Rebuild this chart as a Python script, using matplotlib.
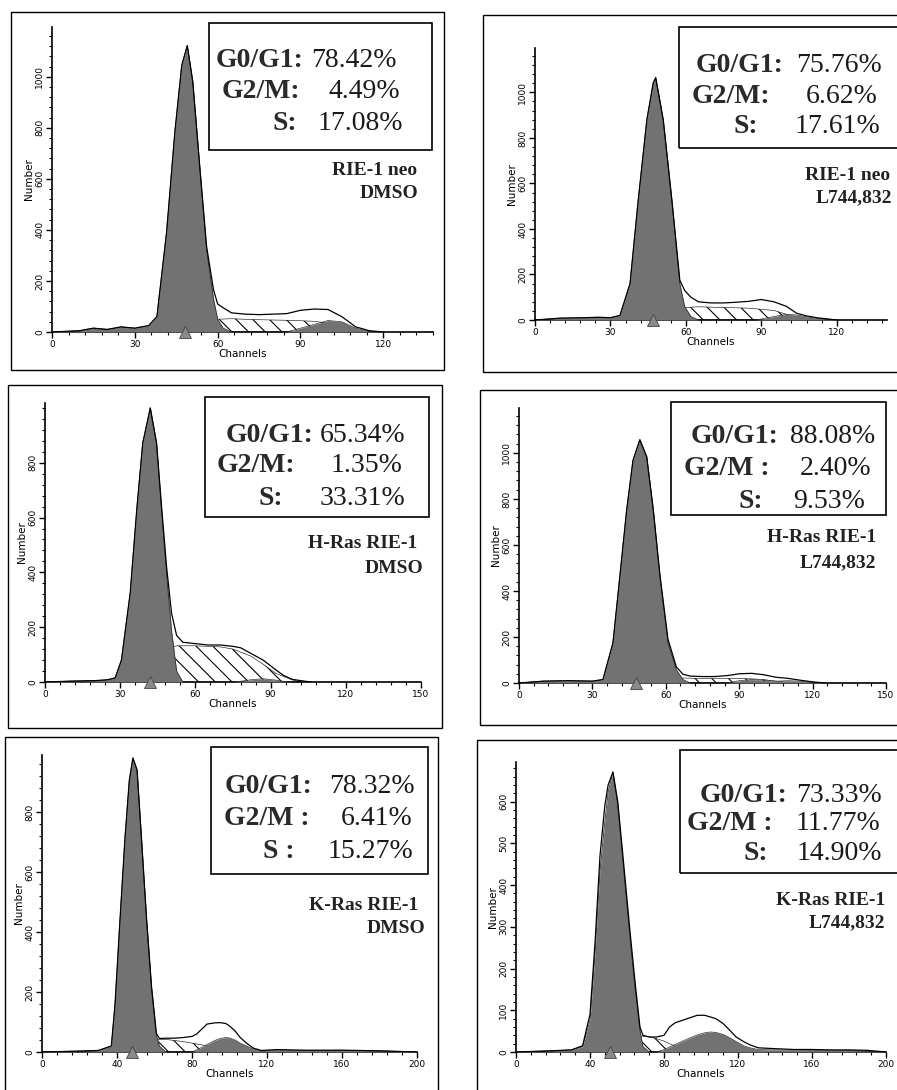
import matplotlib
matplotlib.use('Agg')
import matplotlib.pyplot as plt
from matplotlib.patches import Rectangle
from matplotlib.ticker import MultipleLocator

W, H = 897, 1090

# ---------------- data ----------------
# panel 1: RIE-1 neo, DMSO
tot_ch1 = [0, 10, 15, 20, 25, 30, 35, 38, 41.5, 44.5, 47, 49, 51, 53.5, 56, 58.5, 60, 62, 65, 70, 75, 80, 85, 90, 95, 100, 105, 110, 115, 120]
tot_n1 = [0, 5, 15, 10, 20, 15, 25, 60, 390, 783, 1045, 1122, 980, 650, 335, 165, 110, 95, 75, 70, 68, 70, 72, 85, 90, 88, 60, 20, 5, 0]
g1_ch1 = [0, 10, 15, 20, 25, 30, 35, 38, 41.5, 44.5, 47, 49, 51, 53.5, 56, 58.5, 60, 62, 65]
g1_n1 = [0, 5, 15, 10, 20, 15, 25, 60, 390, 783, 1045, 1122, 980, 650, 320, 130, 50, 15, 0]
s_ch1 = [36, 45, 55, 60, 65, 75, 85, 95, 100, 105, 110, 115]
s_n1 = [0, 15, 38, 50, 52, 48, 46, 42, 35, 22, 8, 0]
g2_ch1 = [85, 90, 95, 100, 105, 110, 115, 120]
g2_n1 = [0, 15, 30, 45, 40, 15, 3, 0]

# panel 2: RIE-1 neo, L744,832
tot_ch2 = [0, 10, 20, 25, 30, 33.8, 37.8, 41, 44.5, 47, 48, 51, 54.5, 57.6, 59.5, 62, 65, 70, 75, 80, 85, 90, 95, 100, 104, 108, 112, 116, 120]
tot_n2 = [0, 8, 10, 12, 10, 20, 160, 520, 880, 1040, 1065, 880, 520, 175, 130, 100, 80, 75, 75, 78, 82, 90, 80, 60, 30, 18, 10, 5, 0]
g1_ch2 = [0, 10, 20, 25, 30, 33.8, 37.8, 41, 44.5, 47, 48, 51, 54.5, 57.6, 59.5, 62, 65]
g1_n2 = [0, 8, 10, 12, 10, 20, 160, 520, 880, 1040, 1065, 880, 520, 160, 60, 15, 0]
s_ch2 = [36, 45, 55, 60, 65, 75, 85, 95, 100, 104, 108, 112]
s_n2 = [0, 20, 42, 55, 58, 55, 52, 42, 25, 10, 3, 0]
g2_ch2 = [88, 95, 100, 104, 108, 112, 116, 120]
g2_n2 = [0, 15, 25, 22, 14, 8, 4, 0]

# panel 3: H-Ras RIE-1, DMSO
tot_ch3 = [0, 10, 20, 25, 28, 30.5, 34, 36.6, 39, 42, 44.5, 46.5, 48.5, 50.5, 52.5, 55, 60, 65, 70, 75, 78, 82, 87, 92, 95, 98.5, 102, 106]
tot_n3 = [0, 3, 5, 8, 15, 80, 325, 628, 872, 1000, 872, 640, 420, 250, 170, 145, 140, 135, 135, 130, 125, 105, 80, 45, 25, 10, 5, 0]
g1_ch3 = [0, 10, 20, 25, 28, 30.5, 34, 36.6, 39, 42, 44.5, 46.5, 48.5, 50.5, 52.5, 55]
g1_n3 = [0, 3, 5, 8, 15, 80, 325, 628, 872, 1000, 872, 628, 392, 186, 40, 0]
s_ch3 = [34, 39, 44.5, 48.5, 52.5, 60, 70, 75, 82, 87, 92, 98.5, 102]
s_n3 = [0, 50, 95, 120, 132, 132, 128, 120, 95, 65, 32, 8, 0]
g2_ch3 = [76, 82, 87, 92, 97]
g2_n3 = [0, 8, 12, 7, 0]

# panel 4: H-Ras RIE-1, L744,832
tot_ch4 = [0, 10, 20, 30, 34.3, 38.4, 41.2, 44, 46.6, 49.4, 52.2, 54.9, 57.6, 60.9, 64.3, 67, 70, 75, 80, 85, 90, 95, 100, 105, 110, 115, 120, 125]
tot_n4 = [0, 8, 10, 8, 15, 174, 461, 751, 968, 1057, 983, 751, 470, 190, 70, 38, 30, 28, 28, 32, 40, 42, 36, 25, 20, 12, 5, 0]
g1_ch4 = [0, 10, 20, 30, 34.3, 38.4, 41.2, 44, 46.6, 49.4, 52.2, 54.9, 57.6, 60.9, 64.3, 67, 70]
g1_n4 = [0, 8, 10, 8, 15, 174, 461, 751, 968, 1057, 983, 751, 461, 174, 58, 15, 0]
s_ch4 = [38, 50, 60, 65, 75, 85, 95, 100, 105, 112]
s_n4 = [0, 12, 20, 22, 20, 20, 18, 15, 8, 0]
g2_ch4 = [85, 90, 95, 100, 105, 110, 115, 120, 125]
g2_n4 = [0, 10, 15, 12, 8, 10, 8, 4, 0]

# panel 5: K-Ras RIE-1, DMSO
tot_ch5 = [0, 20, 30, 37, 39, 41.6, 44.3, 46.6, 48.5, 50.7, 53, 55.8, 58.4, 61, 62.6, 66, 70, 75, 80, 82.5,
           85, 88, 92, 95, 98, 100, 103, 105.6, 109, 112.7, 117, 125, 140, 160, 180, 200]
tot_n5 = [0, 3, 5, 20, 163, 440, 717, 907, 980, 940, 717, 440, 218, 62, 45, 46, 46, 48, 52, 60,
          75, 93, 97, 98, 95, 87, 70, 49, 30, 13, 5, 8, 6, 6, 4, 0]
g1_ch5 = [0, 20, 30, 37, 39, 41.6, 44.3, 46.6, 48.5, 50.7, 53, 55.8, 58.4, 61, 62.6, 66]
g1_n5 = [0, 3, 5, 20, 163, 440, 717, 907, 980, 940, 717, 440, 218, 55, 20, 0]
s_ch5 = [40, 50, 58, 62, 66, 75, 85, 92, 100, 105]
s_n5 = [0, 25, 38, 42, 42, 35, 24, 15, 5, 0]
g2_ch5 = [80, 85, 88, 92, 95, 98, 100, 103, 105.6, 109, 112.7, 117, 125, 140, 160, 180, 200]
g2_n5 = [0, 15, 25, 38, 45, 48, 47, 40, 30, 20, 10, 4, 6, 5, 6, 4, 0]

# panel 6: K-Ras RIE-1, L744,832
tot_ch6 = [0, 20, 30, 36, 40, 42.7, 45.4, 48, 49.8, 52.4, 55, 57.8, 61.6, 64.3, 67, 68.6, 72, 76, 80, 83,
           86, 90, 94, 98, 102, 105, 108, 112, 116, 119, 123, 126.5, 131, 140, 150, 160, 170, 180, 190, 200]
tot_n6 = [0, 3, 5, 15, 90, 260, 470, 590, 640, 671, 600, 470, 290, 170, 60, 40, 36, 36, 40, 60,
          70, 76, 82, 88, 88, 84, 80, 68, 50, 36, 25, 17, 10, 8, 6, 6, 5, 5, 4, 0]
g1_ch6 = [0, 20, 30, 36, 40, 42.7, 45.4, 48, 49.8, 52.4, 55, 57.8, 61.6, 64.3, 67, 68.6, 72]
g1_n6 = [0, 3, 5, 13, 76, 235, 433, 552, 623, 671, 592, 457, 274, 155, 52, 13, 0]
s_ch6 = [42, 50, 58, 64, 68, 72, 76, 80, 86, 92]
s_n6 = [0, 17, 28, 36, 38, 36, 32, 26, 14, 0]
g2_ch6 = [76, 80, 83, 86, 90, 94, 98, 102, 105, 108, 112, 116, 119, 123, 126.5, 131, 140, 160, 180, 200]
g2_n6 = [0, 6, 12, 18, 26, 34, 41, 46, 48, 47, 42, 33, 25, 15, 10, 6, 5, 4, 4, 0]

# G1 peak position markers
peak_ch = [48, 47, 42, 48, 48, 51]

# cell cycle percentages (G0/G1, G2/M, S)
pct1 = ["78.42%", "4.49%", "17.08%"]
pct2 = ["75.76%", "6.62%", "17.61%"]
pct3 = ["65.34%", "1.35%", "33.31%"]
pct4 = ["88.08%", "2.40%", "9.53%"]
pct5 = ["78.32%", "6.41%", "15.27%"]
pct6 = ["73.33%", "11.77%", "14.90%"]

phase_lab1 = ["G0/G1:", "G2/M:", "S:"]
phase_lab2 = ["G0/G1:", "G2/M :", "S:"]
phase_lab3 = ["G0/G1:", "G2/M :", "S :"]

cells = ["RIE-1 neo", "RIE-1 neo", "H-Ras RIE-1", "H-Ras RIE-1", "K-Ras RIE-1", "K-Ras RIE-1"]
treat = ["DMSO", "L744,832", "DMSO", "L744,832", "DMSO", "L744,832"]

# ---------------- layout (pixels of the 897x1090 image) ----------------
panels = [
    dict(tot=(tot_ch1, tot_n1), g1=(g1_ch1, g1_n1), s=(s_ch1, s_n1), g2=(g2_ch1, g2_n1),
         pct=pct1, lab=phase_lab1,
         frame=(11, 12, 444, 370), ax=(52, 433, 332, 27), xlim=138, ylim=1195,
         xstep=30, ytop=1000, ystep=200,
         box=(209, 23, 432, 150), base=(67, 98, 130), lab_r=(303, 300, 297), num_r=(397, 400, 403),
         cond_r=(417, 418), cond_y=(175, 198)),
    dict(tot=(tot_ch2, tot_n2), g1=(g1_ch2, g1_n2), s=(s_ch2, s_n2), g2=(g2_ch2, g2_n2),
         pct=pct2, lab=phase_lab1,
         frame=(483, 15, 902, 372), ax=(535, 887, 320, 48), xlim=140, ylim=1195,
         xstep=30, ytop=1000, ystep=200,
         box=(679, 27, 902, 148), base=(72, 103, 133), lab_r=(783, 770, 758), num_r=(882, 878, 880),
         cond_r=(890, 892), cond_y=(180, 202)),
    dict(tot=(tot_ch3, tot_n3), g1=(g1_ch3, g1_n3), s=(s_ch3, s_n3), g2=(g2_ch3, g2_n3),
         pct=pct3, lab=phase_lab1,
         frame=(8, 385, 442, 728), ax=(45, 421, 682, 403), xlim=150, ylim=1018,
         xstep=30, ytop=800, ystep=200,
         box=(205, 397, 429, 517), base=(442, 472, 505), lab_r=(313, 295, 283), num_r=(405, 402, 405),
         cond_r=(417, 423), cond_y=(548, 573)),
    dict(tot=(tot_ch4, tot_n4), g1=(g1_ch4, g1_n4), s=(s_ch4, s_n4), g2=(g2_ch4, g2_n4),
         pct=pct4, lab=phase_lab2,
         frame=(480, 390, 902, 725), ax=(519, 886, 683, 408), xlim=150, ylim=1195,
         xstep=30, ytop=1000, ystep=200,
         box=(671, 402, 886, 515), base=(443, 475, 508), lab_r=(778, 770, 763), num_r=(875, 871, 865),
         cond_r=(876, 876), cond_y=(542, 567)),
    dict(tot=(tot_ch5, tot_n5), g1=(g1_ch5, g1_n5), s=(s_ch5, s_n5), g2=(g2_ch5, g2_n5),
         pct=pct5, lab=phase_lab3,
         frame=(5, 737, 438, 1098), ax=(42, 417, 1052, 755), xlim=200, ylim=990,
         xstep=40, ytop=800, ystep=200,
         box=(211, 747, 428, 874), base=(793, 825, 858), lab_r=(312, 310, 295), num_r=(415, 412, 413),
         cond_r=(418, 425), cond_y=(910, 933)),
    dict(tot=(tot_ch6, tot_n6), g1=(g1_ch6, g1_n6), s=(s_ch6, s_n6), g2=(g2_ch6, g2_n6),
         pct=pct6, lab=phase_lab2,
         frame=(477, 740, 902, 1098), ax=(516, 886, 1052, 762), xlim=200, ylim=695,
         xstep=40, ytop=600, ystep=100,
         box=(680, 750, 902, 873), base=(802, 830, 860), lab_r=(787, 773, 768), num_r=(882, 880, 882),
         cond_r=(885, 885), cond_y=(905, 927)),
]

plt.rcParams['hatch.linewidth'] = 0.8
serif = ['Liberation Serif', 'DejaVu Serif']
fill_gray = '#727272'

fig = plt.figure(figsize=(W / 100, H / 100), dpi=100)
fig.patch.set_facecolor('white')


def fx(x):
    return x / W


def fy(y):
    return 1 - y / H


def rect(x0, y0, x1, y1, lw):
    fig.add_artist(Rectangle((fx(x0), fy(y1)), (x1 - x0) / W, (y1 - y0) / H,
                             transform=fig.transFigure, fill=False, lw=lw, ec='black', zorder=10))


for i, p in enumerate(panels):
    rect(*p['frame'], lw=1.0)

    x0, x1, yb, yt = p['ax']
    ax = fig.add_axes([fx(x0), fy(yb), (x1 - x0) / W, (yb - yt) / H])
    ax.set_facecolor('none')

    tc, tn = p['tot']
    ax.fill_between(tc, 0, tn, color='white', lw=0, zorder=1)
    sc, sn = p['s']
    ax.fill_between(sc, 0, sn, facecolor='white', edgecolor='black', hatch='\\\\', lw=0.4, zorder=2)
    gc, gn = p['g2']
    ax.fill_between(gc, 0, gn, color=fill_gray, lw=0, zorder=3)
    ax.plot(gc, gn, color='#333333', lw=0.5, zorder=3)
    gc, gn = p['g1']
    ax.fill_between(gc, 0, gn, color=fill_gray, lw=0, zorder=3)
    ax.plot(gc, gn, color='#333333', lw=0.6, zorder=3)
    ax.plot(tc, tn, color='black', lw=0.9, zorder=4)
    ax.plot(peak_ch[i], 0, marker='^', ms=8, color='#8a8a8a', mec='#444444', mew=0.6,
            clip_on=False, zorder=6)

    ax.set_xlim(0, p['xlim'])
    ax.set_ylim(0, p['ylim'])
    ax.set_xticks(list(range(0, int(p['xlim']) + 1, p['xstep'])))
    ax.xaxis.set_minor_locator(MultipleLocator(p['xstep'] / 5))
    ax.set_yticks(list(range(0, p['ytop'] + 1, p['ystep'])))
    ax.yaxis.set_minor_locator(MultipleLocator(p['ystep'] / 5))
    for side in ['top', 'right']:
        ax.spines[side].set_visible(False)
    for side in ['left', 'bottom']:
        ax.spines[side].set_linewidth(1.2)
    ax.tick_params(which='major', length=4, width=1, labelsize=6.5, pad=1.5, direction='out')
    ax.tick_params(which='minor', length=2.5, width=0.8, direction='out')
    ax.tick_params(axis='y', labelrotation=90)
    for lbl in ax.get_yticklabels():
        lbl.set_va('center')
    ax.set_xlabel('Channels', fontsize=7.5, labelpad=0)
    ax.set_ylabel('Number', fontsize=7.5, labelpad=1)

    # percentage box
    bx0, by0, bx1, by1 = p['box']
    rect(bx0, by0, bx1, by1, lw=1.2)
    for j in range(3):
        fig.text(fx(p['lab_r'][j]), fy(p['base'][j]), p['lab'][j], ha='right', va='baseline',
                 fontsize=20, fontweight='bold', family=serif, color='#2a2a2a', zorder=11)
        fig.text(fx(p['num_r'][j]), fy(p['base'][j]), p['pct'][j], ha='right', va='baseline',
                 fontsize=20, family=serif, color='#1a1a1a', zorder=11)

    fig.text(fx(p['cond_r'][0]), fy(p['cond_y'][0]), cells[i], ha='right', va='baseline',
             fontsize=14, fontweight='bold', family=serif, color='#222222')
    fig.text(fx(p['cond_r'][1]), fy(p['cond_y'][1]), treat[i], ha='right', va='baseline',
             fontsize=14, fontweight='bold', family=serif, color='#222222')

fig.savefig('out.png', dpi=100, facecolor='white')
